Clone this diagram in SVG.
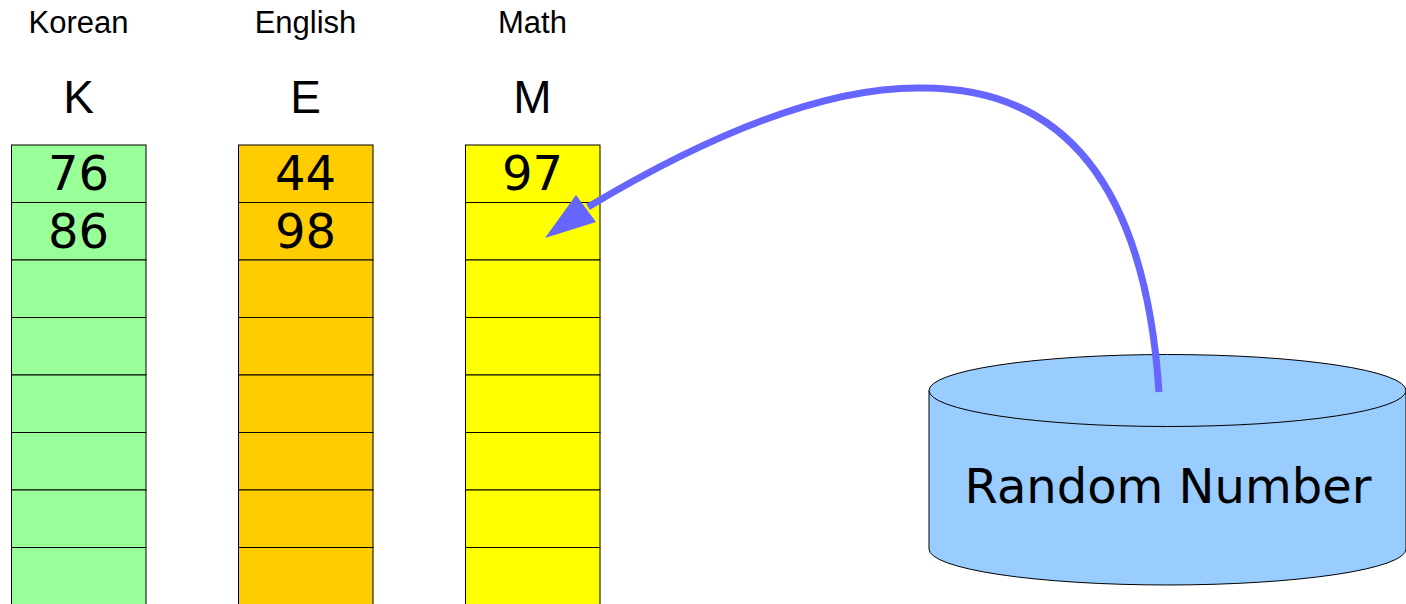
<svg xmlns="http://www.w3.org/2000/svg" width="1406" height="604" viewBox="0 0 1406 604">
<style>
.cell{stroke:#000;stroke-width:1}
.k{fill:#99ff99}.e{fill:#ffcc00}.m{fill:#ffff00}
.lbl{font-family:"Liberation Sans",Arial,sans-serif;font-size:31px;fill:#000;text-anchor:middle}
.hdr{font-family:"Liberation Sans",Arial,sans-serif;font-size:46px;fill:#000;text-anchor:middle}
.num{font-family:"DejaVu Sans",sans-serif;font-size:48px;fill:#000;text-anchor:middle}
</style>
<rect width="1406" height="604" fill="#fff"/>
<g id="korean">
<text class="lbl" x="78.5" y="33">Korean</text>
<text class="hdr" x="78.5" y="113">K</text>
<rect class="cell k" x="11.5" y="145" width="134.5" height="57.5"/>
<rect class="cell k" x="11.5" y="202.5" width="134.5" height="57.5"/>
<rect class="cell k" x="11.5" y="260" width="134.5" height="57.5"/>
<rect class="cell k" x="11.5" y="317.5" width="134.5" height="57.5"/>
<rect class="cell k" x="11.5" y="375" width="134.5" height="57.5"/>
<rect class="cell k" x="11.5" y="432.5" width="134.5" height="57.5"/>
<rect class="cell k" x="11.5" y="490" width="134.5" height="57.5"/>
<rect class="cell k" x="11.5" y="547.5" width="134.5" height="57.5"/>
<text class="num" x="78.5" y="190">76</text>
<text class="num" x="78.5" y="248">86</text>
</g>
<g id="english">
<text class="lbl" x="305.5" y="33">English</text>
<text class="hdr" x="305.5" y="113">E</text>
<rect class="cell e" x="238.5" y="145" width="134.5" height="57.5"/>
<rect class="cell e" x="238.5" y="202.5" width="134.5" height="57.5"/>
<rect class="cell e" x="238.5" y="260" width="134.5" height="57.5"/>
<rect class="cell e" x="238.5" y="317.5" width="134.5" height="57.5"/>
<rect class="cell e" x="238.5" y="375" width="134.5" height="57.5"/>
<rect class="cell e" x="238.5" y="432.5" width="134.5" height="57.5"/>
<rect class="cell e" x="238.5" y="490" width="134.5" height="57.5"/>
<rect class="cell e" x="238.5" y="547.5" width="134.5" height="57.5"/>
<text class="num" x="305.5" y="190">44</text>
<text class="num" x="305.5" y="248">98</text>
</g>
<g id="math">
<text class="lbl" x="532.5" y="33">Math</text>
<text class="hdr" x="532.5" y="113">M</text>
<rect class="cell m" x="465.5" y="145" width="134.5" height="57.5"/>
<rect class="cell m" x="465.5" y="202.5" width="134.5" height="57.5"/>
<rect class="cell m" x="465.5" y="260" width="134.5" height="57.5"/>
<rect class="cell m" x="465.5" y="317.5" width="134.5" height="57.5"/>
<rect class="cell m" x="465.5" y="375" width="134.5" height="57.5"/>
<rect class="cell m" x="465.5" y="432.5" width="134.5" height="57.5"/>
<rect class="cell m" x="465.5" y="490" width="134.5" height="57.5"/>
<rect class="cell m" x="465.5" y="547.5" width="134.5" height="57.5"/>
<text class="num" x="532.5" y="190">97</text>
</g>
<g id="random-number">
<path d="M929,390.5 L929,549 A238.5,36 0 0 0 1406,549 L1406,390.5 Z" fill="#99ccff" stroke="#000" stroke-width="1"/>
<ellipse cx="1167.5" cy="390.5" rx="238.5" ry="36" fill="#99ccff" stroke="#000" stroke-width="1"/>
<text class="num" x="1168" y="503">Random Number</text>
</g>
<g id="connectors">
<path d="M1159,392 C1145,180 1060,88 923,88 C820,86 700,140 588,207" fill="none" stroke="#6666ff" stroke-width="7"/>
<polygon points="545,238 576,195 596,222" fill="#6666ff"/>
</g>
</svg>
